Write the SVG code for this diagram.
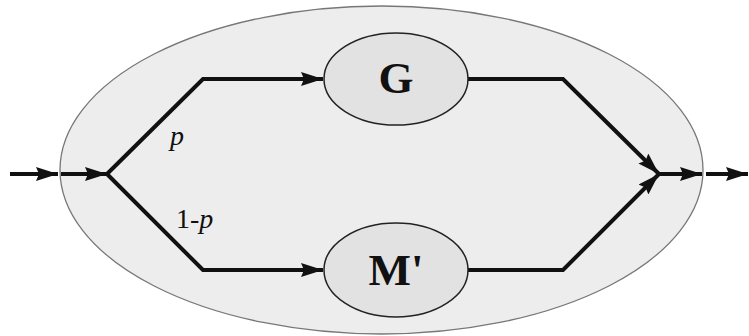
<svg xmlns="http://www.w3.org/2000/svg" width="749" height="336" viewBox="0 0 749 336">
<defs>
<marker id="ah" markerWidth="22" markerHeight="14" refX="22" refY="7" orient="auto" markerUnits="userSpaceOnUse">
<path d="M0,0 L22,7 L0,14 L3,7 Z" fill="#111"/>
</marker>
</defs>
<style>
.ln{fill:none;stroke:#111;stroke-width:4;stroke-linejoin:miter}
.nd{fill:#e2e2e2;stroke:#222;stroke-width:1.5}
.lbl{font-family:"Liberation Serif","Times New Roman","DejaVu Serif",serif;font-weight:bold;font-size:45px;fill:#111}
.it{font-family:"Liberation Serif","Times New Roman","DejaVu Serif",serif;font-size:28px;fill:#111}
</style>
<rect width="749" height="336" fill="#fff"/>
<g id="outer"><ellipse cx="381.5" cy="170" rx="321.5" ry="164" fill="#ededed" stroke="#777" stroke-width="1.3"/></g>
<g id="connectors">
<line class="ln" x1="10" y1="174" x2="58" y2="174" marker-end="url(#ah)"/>
<line class="ln" x1="61" y1="174" x2="107" y2="174" marker-end="url(#ah)"/>
<polyline class="ln" points="107,174 203,79 323,79" marker-end="url(#ah)"/>
<polyline class="ln" points="107,174 203,270 323,270" marker-end="url(#ah)"/>
<polyline class="ln" points="468,79 563,79 659,174" marker-end="url(#ah)"/>
<polyline class="ln" points="468,270 563,270 659,174" marker-end="url(#ah)"/>
<line class="ln" x1="659" y1="174" x2="702" y2="174" marker-end="url(#ah)"/>
<line class="ln" x1="706" y1="174" x2="748" y2="174" marker-end="url(#ah)"/>
</g>
<g id="G"><ellipse class="nd" cx="396" cy="79" rx="72" ry="46"/><text class="lbl" x="396" y="93" text-anchor="middle">G</text></g>
<g id="M"><ellipse class="nd" cx="396" cy="270" rx="72" ry="47"/><text class="lbl" x="396" y="285" text-anchor="middle">M'</text></g>
<text class="it" x="170" y="145" font-style="italic">p</text>
<text class="it" x="176" y="228">1-<tspan font-style="italic">p</tspan></text>
</svg>
